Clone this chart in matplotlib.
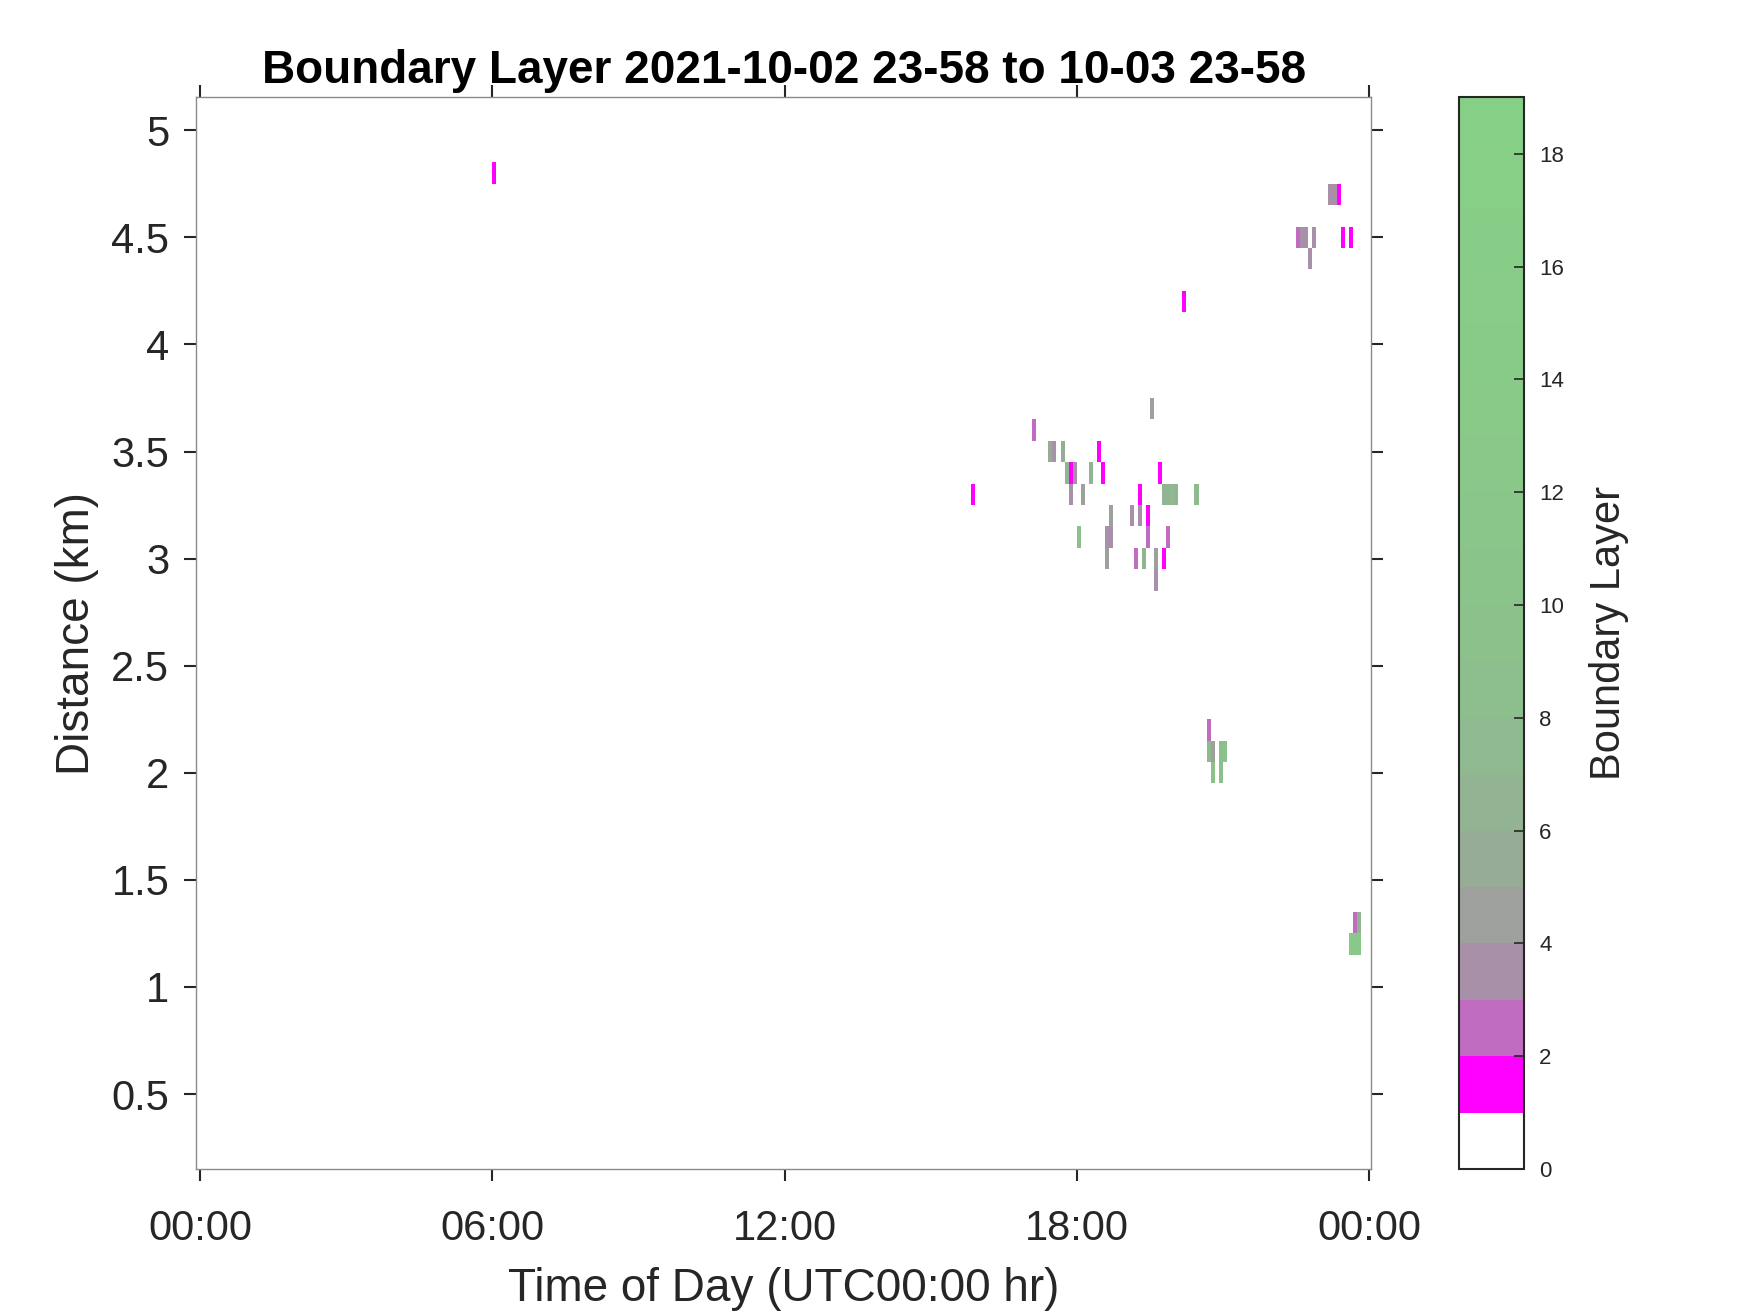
import numpy as np
import matplotlib
matplotlib.use('Agg')
import matplotlib.pyplot as plt
from matplotlib.colors import ListedColormap, BoundaryNorm

plt.rcParams['font.family'] = ['Liberation Sans', 'DejaVu Sans']

# detected cells: start of 5-min bin (UTC), range gate centre (km), count
cell_time = ["06:00", "15:50",
             "17:05",
             "17:25", "17:30", "17:40", "18:25",
             "17:45", "17:50", "17:55", "18:15", "18:30", "19:40",
             "17:50", "18:05", "19:15", "19:45", "19:50", "19:55", "20:00", "20:25",
             "19:30",
             "18:40", "19:05", "19:15", "19:25",
             "18:00", "18:35", "18:40", "19:25", "19:50",
             "18:35", "19:10", "19:20", "19:35", "19:45",
             "19:35",
             "20:10",
             "20:40", "20:40", "20:45", "20:55", "21:00", "20:45", "20:55",
             "23:10", "23:15", "23:20",
             "22:30", "22:35", "22:40", "22:50", "23:25", "23:35",
             "22:45",
             "23:40", "23:45", "23:35", "23:40", "23:45"]
cell_dist = [4.8, 3.3,
             3.6,
             3.5, 3.5, 3.5, 3.5,
             3.4, 3.4, 3.4, 3.4, 3.4, 3.4,
             3.3, 3.3, 3.3, 3.3, 3.3, 3.3, 3.3, 3.3,
             3.7,
             3.2, 3.2, 3.2, 3.2,
             3.1, 3.1, 3.1, 3.1, 3.1,
             3.0, 3.0, 3.0, 3.0, 3.0,
             2.9,
             4.2,
             2.2, 2.1, 2.1, 2.1, 2.1, 2.0, 2.0,
             4.7, 4.7, 4.7,
             4.5, 4.5, 4.5, 4.5, 4.5, 4.5,
             4.4,
             1.3, 1.3, 1.2, 1.2, 1.2]
cell_count = [1, 1,
              2,
              5, 3, 5, 1,
              6, 1, 3, 6, 1, 1,
              3, 4, 1, 6, 6, 7, 6, 7,
              4,
              4, 3, 3, 1,
              8, 3, 3, 2, 2,
              4, 2, 6, 4, 1,
              3,
              1,
              2, 7, 4, 8, 9, 9, 8,
              3, 3, 1,
              2, 3, 3, 3, 1, 1,
              3,
              2, 6, 12, 12, 12]

x_ticks = [0, 6, 12, 18, 24]
x_tick_labels = ['00:00', '06:00', '12:00', '18:00', '00:00']
y_ticks = [0.5, 1, 1.5, 2, 2.5, 3, 3.5, 4, 4.5, 5]
y_tick_labels = ['0.5', '1', '1.5', '2', '2.5', '3', '3.5', '4', '4.5', '5']
cbar_ticks = [0, 2, 4, 6, 8, 10, 12, 14, 16, 18]

bin_colors = ['#FFFFFF', '#FF00FF', '#C06CC0', '#A891A8', '#9DA09D', '#96AC96',
              '#92B492', '#8FBA8F', '#8DBE8D', '#8CC18C', '#8BC48B', '#8AC68A',
              '#89C889', '#89CA89', '#88CB88', '#88CC88', '#87CD87', '#87CE87',
              '#86CF86']

# grid: 5-min bins over the day, 0.1 km range gates
t_edges = np.arange(0, 24 * 60 + 5, 5) / 60.0
d_edges = np.linspace(0.15, 5.15, 51)
Z = np.zeros((len(d_edges) - 1, len(t_edges) - 1))
for t, d, c in zip(cell_time, cell_dist, cell_count):
    hh, mm = t.split(':')
    col = (int(hh) * 60 + int(mm)) // 5
    row = int(round((d - 0.2) / 0.1))
    Z[row, col] = c

cmap = ListedColormap(bin_colors)
norm = BoundaryNorm(np.arange(0, 20), ncolors=19)

fig = plt.figure(figsize=(17.5, 13.13), dpi=100)
ax = fig.add_axes([0.1122, 0.1097, 0.6712, 0.8162])
mesh = ax.pcolormesh(t_edges, d_edges, Z, cmap=cmap, norm=norm, shading='flat')

ax.set_xlim(-0.075, 24.04)
ax.set_ylim(0.15, 5.154)
ax.set_xticks(x_ticks)
ax.set_xticklabels(x_tick_labels)
ax.set_yticks(y_ticks)
ax.set_yticklabels(y_tick_labels)

for sp in ax.spines.values():
    sp.set_color('#8a8a8a')
    sp.set_linewidth(1.0)
ax.tick_params(axis='both', direction='out', length=8.5, width=1.5,
               color='#262626', labelcolor='#262626', labelsize=30,
               top=True, right=True)
ax.tick_params(axis='x', pad=20)
ax.tick_params(axis='y', pad=11)

ax.set_xlabel('Time of Day (UTC00:00 hr)', fontsize=33, color='#262626', labelpad=13)
ax.set_ylabel('Distance (km)', fontsize=33, color='#262626', labelpad=9)
ax.set_title('Boundary Layer 2021-10-02 23-58 to 10-03 23-58',
             fontsize=33, fontweight='bold', y=1.0, pad=10)

cax = fig.add_axes([0.8337, 0.1097, 0.0371, 0.8162])
cb = fig.colorbar(mesh, cax=cax, ticks=cbar_ticks)
cax.minorticks_off()
cb.outline.set_edgecolor('#262626')
cb.outline.set_linewidth(1.5)
cax.tick_params(direction='in', length=7, width=1.2, color='#262626',
                labelcolor='#262626', labelsize=16, pad=11)
cb.set_label('Boundary Layer', fontsize=30, color='#262626', labelpad=18)

fig.savefig('out.png', dpi=100)
